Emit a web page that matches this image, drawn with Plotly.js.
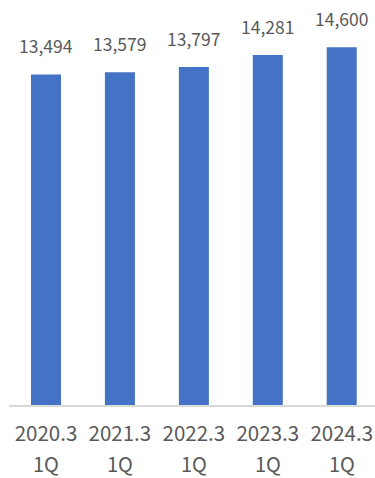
<!DOCTYPE html>
<html>
<head>
<meta charset="utf-8">
<script src="https://cdn.plot.ly/plotly-3.0.1.min.js"></script>
<style>html,body{margin:0;padding:0;background:#fff;}#chart{width:375px;height:478px;}</style>
</head>
<body>
<div id="chart"></div>
<script>
const periods = ['2020.3', '2021.3', '2022.3', '2023.3', '2024.3'];
const quarters = ['1Q', '1Q', '1Q', '1Q', '1Q'];
const values = [13494, 13579, 13797, 14281, 14600];

const font = 'Noto Sans CJK JP, Noto Sans, sans-serif';
const grey = '#595959';
const idx = periods.map((p, i) => i);

const trace = {
  type: 'bar',
  x: idx,
  y: values,
  marker: { color: '#4472C4' },
  hoverinfo: 'skip'
};

const annotations = [];
values.forEach((v, i) => {
  annotations.push({
    x: i, y: v, xref: 'x', yref: 'y',
    text: v.toLocaleString('en-US'),
    showarrow: false, yanchor: 'bottom', yshift: 14,
    font: { family: font, size: 17.5, color: grey }
  });
  annotations.push({
    x: i, y: 0, xref: 'x', yref: 'paper',
    text: quarters[i],
    showarrow: false, yanchor: 'middle', yshift: -58,
    font: { family: font, size: 20, color: grey }
  });
});

const layout = {
  width: 375, height: 478,
  margin: { l: 9, r: 0, t: 13, b: 73, pad: 0 },
  paper_bgcolor: '#ffffff', plot_bgcolor: '#ffffff',
  bargap: 0.594,
  showlegend: false,
  xaxis: {
    type: 'linear',
    range: [-0.5, 4.45],
    tickmode: 'array', tickvals: idx, ticktext: periods,
    ticks: '', showgrid: false, zeroline: false,
    showline: true, linecolor: '#d9d9d9', linewidth: 1.5,
    ticklabelstandoff: 10,
    tickfont: { family: font, size: 20.5, color: grey }
  },
  yaxis: {
    range: [0, 16000], visible: false, showgrid: false, zeroline: false
  },
  annotations: annotations
};

Plotly.newPlot('chart', [trace], layout, { displayModeBar: false, staticPlot: true });
</script>
</body>
</html>
